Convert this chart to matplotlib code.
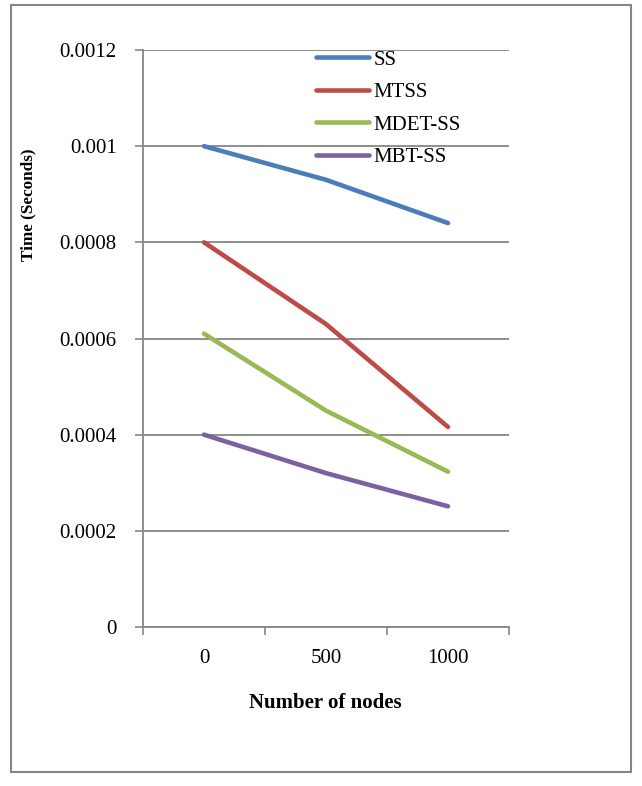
import matplotlib
matplotlib.use('Agg')
import matplotlib.pyplot as plt
from matplotlib.patches import Rectangle

plt.rcParams['font.family'] = ['Liberation Serif', 'DejaVu Serif']

# data
nodes = ['0', '500', '1000']
series_names = ['SS', 'MTSS', 'MDET-SS', 'MBT-SS']
ss = [0.001, 0.00093, 0.00084]
mtss = [0.0008, 0.00063, 0.000416]
mdet_ss = [0.00061, 0.00045, 0.000323]
mbt_ss = [0.0004, 0.00032, 0.000251]
yticks = [0, 0.0002, 0.0004, 0.0006, 0.0008, 0.001, 0.0012]
ytick_labels = ['0', '0.0002', '0.0004', '0.0006', '0.0008', '0.001', '0.0012']

colors = ['#4A7EBB', '#BE4B48', '#98B954', '#7D60A0']
grid_col = '#868686'

fig = plt.figure(figsize=(6.42, 7.86), dpi=100)
fig.patches.append(Rectangle((11/642, 1-772/786), 620/642, 767/786,
                             transform=fig.transFigure, fill=False,
                             edgecolor=grid_col, linewidth=1.5))
ax = fig.add_axes([143/642, 1-627/786, 366/642, 577/786])

x = range(len(nodes))
for vals, name, c in zip([ss, mtss, mdet_ss, mbt_ss], series_names, colors):
    ax.plot(x, vals, color=c, linewidth=3.3, label=name, solid_capstyle='round')

ax.set_xlim(-0.5, 2.5)
ax.set_ylim(0, 0.0012)
ax.set_yticks(yticks)
ax.set_yticklabels(ytick_labels)
ax.yaxis.grid(True, color=grid_col, linewidth=1.3)
ax.set_axisbelow(True)

ax.set_xticks([-0.5, 0.5, 1.5, 2.5])
ax.set_xticklabels([])
ax.set_xticks(list(x), minor=True)
ax.set_xticklabels(nodes, minor=True)
ax.tick_params(axis='x', which='major', length=6, width=1.2, color=grid_col)
ax.tick_params(axis='x', which='minor', length=0, pad=16, labelsize=15)
ax.tick_params(axis='y', length=6, width=1.2, color=grid_col, pad=13, labelsize=15)

for s in ['top', 'right']:
    ax.spines[s].set_visible(False)
for s in ['left', 'bottom']:
    ax.spines[s].set_color(grid_col)
    ax.spines[s].set_linewidth(1.3)

ax.legend(loc='upper left', bbox_to_anchor=(0.473, 1.0), frameon=False,
          fontsize=15, handlelength=2.55, handletextpad=0.2, labelspacing=0.62,
          borderpad=0, borderaxespad=0)

fig.text(28/642, 1-205/786, 'Time (Seconds)', rotation=90, ha='center', va='center',
         fontsize=12.3, fontweight='bold')
fig.text(325/642, 1-703/786, 'Number of nodes', ha='center', va='center',
         fontsize=15, fontweight='bold')

fig.savefig('out.png', dpi=100)
